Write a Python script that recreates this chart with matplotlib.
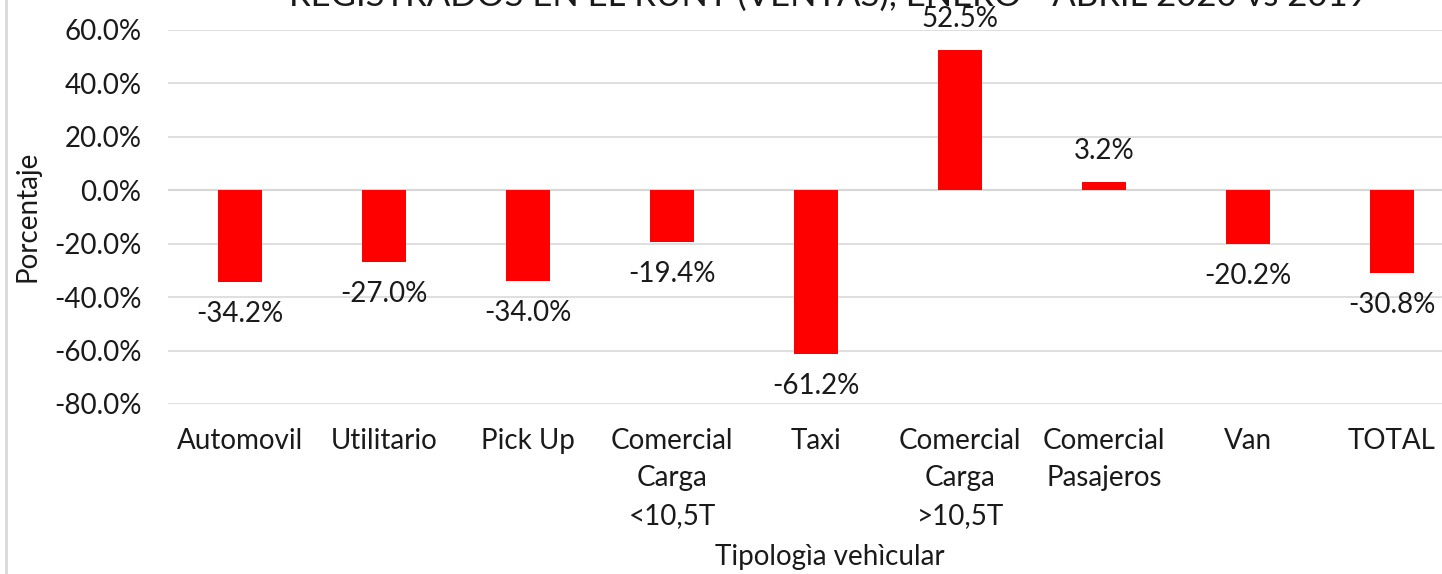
import matplotlib.pyplot as plt
import matplotlib.lines as mlines
from matplotlib.ticker import FuncFormatter

# datos
categorias = ['Automovil', 'Utilitario', 'Pick Up', 'Comercial\nCarga\n<10,5T', 'Taxi',
              'Comercial\nCarga\n>10,5T', 'Comercial\nPasajeros', 'Van', 'TOTAL']
variacion = [-34.2, -27.0, -34.0, -19.4, -61.2, 52.5, 3.2, -20.2, -30.8]
ticks_y = [60, 40, 20, 0, -20, -40, -60, -80]

plt.rcParams['font.family'] = ['Lato', 'DejaVu Sans']
plt.rcParams['font.weight'] = 'normal'
color_txt = '#1A1A1A'
fs = 20

fig = plt.figure(figsize=(14.42, 5.74), dpi=100)
# el area del grafico se sale por la derecha como en la imagen original
ax = fig.add_axes([168 / 1442, 1 - 404 / 574, 1296 / 1442, 374 / 574])

x = range(len(categorias))
ax.bar(x, variacion, width=0.31, color='#FF0000', zorder=3)

for xi, v in zip(x, variacion):
    off = 22 if v >= 0 else -23
    ax.annotate(f'{v:.1f}%', (xi, v), xytext=(0, off), textcoords='offset points',
                ha='center', va='center', fontsize=fs, color=color_txt)

ax.set_xlim(-0.5, len(categorias) - 0.5)
ax.set_ylim(-80, 60)
ax.set_yticks(ticks_y)
ax.yaxis.set_major_formatter(FuncFormatter(lambda v, p: f'{v:.1f}%'))
ax.set_xticks(list(x))
ax.set_xticklabels(categorias, linespacing=1.55)
ax.tick_params(axis='both', length=0, labelsize=fs, colors=color_txt)
ax.tick_params(axis='y', pad=19)
ax.tick_params(axis='x', pad=17)
for s in ax.spines.values():
    s.set_visible(False)
ax.grid(axis='y', color='#D9D9D9', linewidth=1.2, zorder=0)
ax.axhline(0, color='#D0D0D0', linewidth=1.5, zorder=1)

fig.text(28 / 1442, 1 - 216 / 574, 'Porcentaje', rotation=90, ha='center', va='center',
         fontsize=fs, color=color_txt)
fig.text(830 / 1442, 1 - 557 / 574, 'Tipologìa vehìcular', ha='center', va='center',
         fontsize=fs, color=color_txt)

# titulo cortado en la parte superior
fig.text(828 / 1442, 1 + 4 / 574, 'REGISTRADOS EN EL RUNT (VENTAS), ENERO - ABRIL 2020 vs 2019',
         ha='center', va='center', fontsize=25, color=color_txt)

fig.add_artist(mlines.Line2D([6 / 1442, 6 / 1442], [0, 1], color='#D9D9D9', linewidth=2))

fig.savefig('out.png', dpi=100)
